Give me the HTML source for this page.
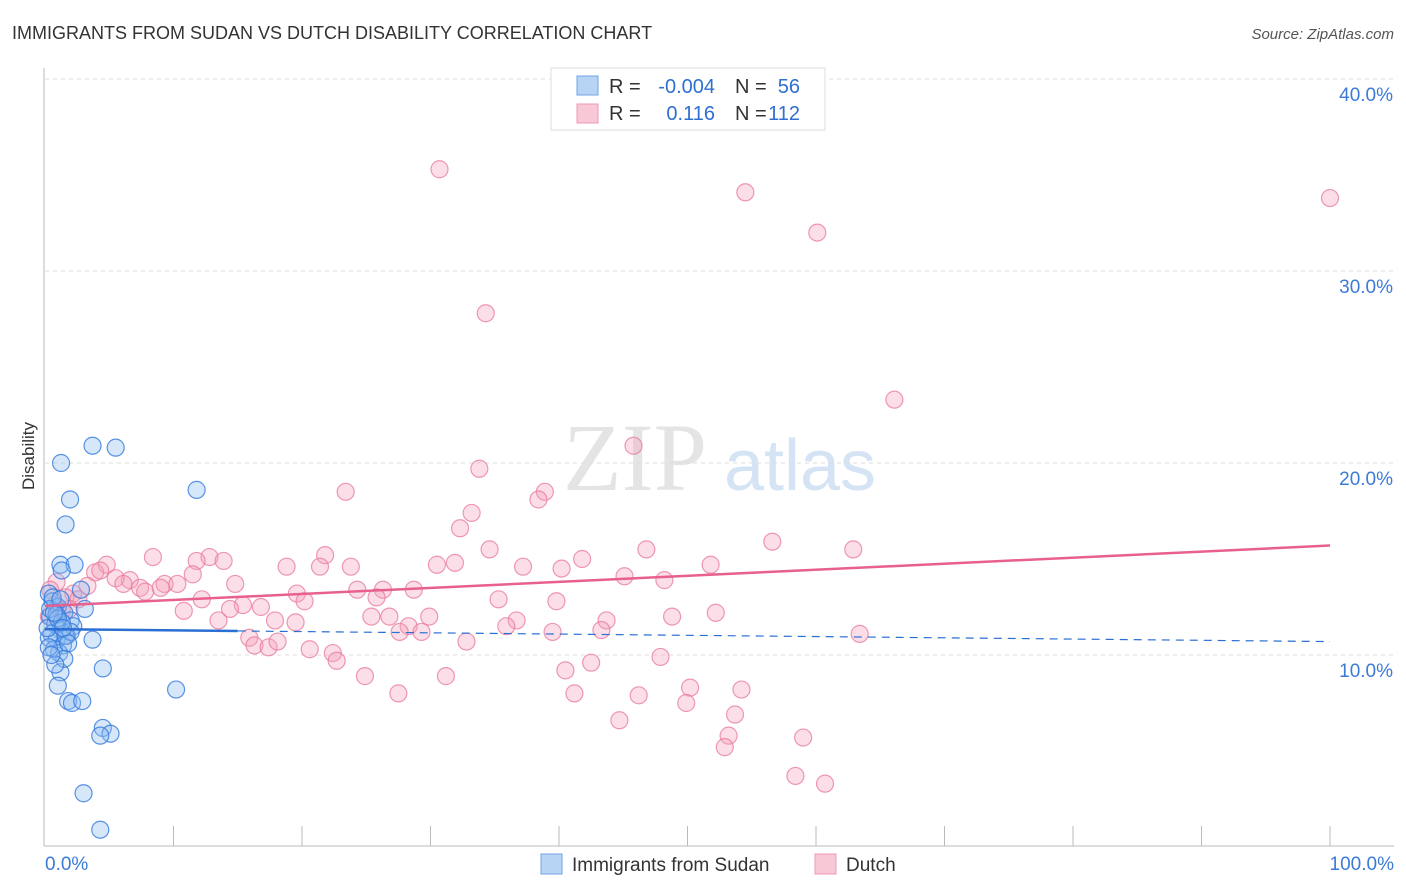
<!DOCTYPE html>
<html><head><meta charset="utf-8"><style>
body{margin:0;background:#fff;font-family:"Liberation Sans",sans-serif}
svg{display:block}
</style></head><body>
<svg id="chart" width="1406" height="892">
<text x="12" y="39" font-size="18" fill="#333">IMMIGRANTS FROM SUDAN VS DUTCH DISABILITY CORRELATION CHART</text>
<text x="1394" y="39" font-size="15" fill="#555" font-style="italic" text-anchor="end">Source: ZipAtlas.com</text>
<text x="34" y="456" font-size="17" fill="#333" text-anchor="middle" transform="rotate(-90 34 456)">Disability</text>
<g><text x="635" y="490" font-size="96" fill="#e4e4e4" font-family="Liberation Serif,serif" text-anchor="middle">ZIP</text><text x="800" y="490" font-size="72" fill="#d5e4f5" text-anchor="middle">atlas</text></g>
<g id="grid"></g><g id="axes"></g><g id="pts"></g><g id="trend"></g>
<g>
<rect x="551" y="68" width="274" height="62" fill="#fff" stroke="#ddd"/>
<rect x="577" y="76" width="21" height="19" fill="#b8d4f5" stroke="#6fa3e6"/>
<rect x="577" y="104" width="21" height="19" fill="#f9c8d7" stroke="#ee9ab4"/>
<text x="609" y="93" font-size="20" fill="#333">R =</text><text x="715" y="93" font-size="20" fill="#2f6fd0" text-anchor="end">-0.004</text>
<text x="735" y="93" font-size="20" fill="#333">N =</text><text x="800" y="93" font-size="20" fill="#2f6fd0" text-anchor="end">56</text>
<text x="609" y="120" font-size="20" fill="#333">R =</text><text x="715" y="120" font-size="20" fill="#2f6fd0" text-anchor="end">0.116</text>
<text x="735" y="120" font-size="20" fill="#333">N =</text><text x="800" y="120" font-size="20" fill="#2f6fd0" text-anchor="end">112</text>
</g>
<g>
<rect x="541" y="854" width="21" height="20" fill="#b8d4f5" stroke="#6fa3e6"/><text x="572" y="871" font-size="19" fill="#333">Immigrants from Sudan</text>
<rect x="815" y="854" width="21" height="20" fill="#f9c8d7" stroke="#ee9ab4"/><text x="846" y="871" font-size="19" fill="#333">Dutch</text>
</g>
</svg>
<script>
const yTicks=[10,20,30,40];
const xTickLabels=["0.0%","100.0%"];
const sudanX=[3.7,5.5,1.25,11.8,1.95,1.6,1.2,2.3,1.3,2.8,3.1,3.7,4.5,10.2,1.2,1.0,1.8,2.1,2.9,4.5,5.1,4.3,3.0,4.3,0.3,0.6,1.0,1.5,2.0,0.4,0.8,1.2,1.7,2.2,0.5,0.9,1.4,0.3,0.7,1.1,1.6,2.0,0.4,0.9,1.3,1.8,0.2,0.6,1.0,1.5,0.3,0.8,1.2,0.5,1.4,0.7];
const sudanY=[20.9,20.8,20.0,18.6,18.1,16.8,14.7,14.7,14.4,13.4,12.4,10.8,9.3,8.2,9.1,8.4,7.6,7.5,7.6,6.2,5.9,5.8,2.8,0.9,13.2,12.8,12.5,12.2,11.8,12.0,11.6,11.3,11.0,11.5,11.1,10.8,10.5,10.9,10.3,10.1,11.0,11.2,12.4,12.1,11.7,10.6,11.4,13.0,11.9,9.8,10.4,9.5,12.9,10.0,11.4,12.2];
const dutchX=[30.7,54.5,60.1,100,34.3,66.1,45.8,33.8,23.4,38.9,38.4,33.2,32.3,34.6,8.4,21.8,41.8,46.8,56.6,62.9,51.8,12.8,13.9,11.8,4.8,18.8,23.8,30.5,31.9,37.2,40.2,45.1,48.2,21.4,11.5,14.8,6.6,9.3,10.3,26.3,28.7,24.3,19.6,20.2,25.8,35.3,39.8,12.2,15.4,16.8,10.8,14.4,25.4,26.8,29.9,43.7,48.8,52.2,13.5,17.9,19.5,36.7,35.9,28.3,27.6,29.3,39.5,43.3,63.4,15.9,16.3,17.4,18.1,20.6,22.4,22.7,32.8,47.9,42.5,40.5,24.9,31.2,50.2,54.2,27.5,41.2,46.2,49.9,53.7,44.7,53.2,52.9,59.0,58.4,60.7,0.9,3.9,4.3,5.5,6.1,7.4,3.3,2.2,1.6,0.8,0.4,1.3,7.8,9.0,2.6,0.3,1.9];
const dutchY=[35.3,34.1,32.0,33.8,27.8,23.3,20.9,19.7,18.5,18.5,18.1,17.4,16.6,15.5,15.1,15.2,15.0,15.5,15.9,15.5,14.7,15.1,14.9,14.9,14.7,14.6,14.6,14.7,14.8,14.6,14.5,14.1,13.9,14.6,14.2,13.7,13.9,13.7,13.7,13.4,13.4,13.4,13.2,12.8,13.0,12.9,12.8,12.9,12.6,12.5,12.3,12.4,12.0,12.0,12.0,11.8,12.0,12.2,11.8,11.8,11.7,11.8,11.5,11.5,11.2,11.2,11.2,11.3,11.1,10.9,10.5,10.4,10.7,10.3,10.1,9.7,10.7,9.9,9.6,9.2,8.9,8.9,8.3,8.2,8.0,8.0,7.9,7.5,6.9,6.6,5.8,5.2,5.7,3.7,3.3,13.8,14.3,14.4,14.0,13.7,13.5,13.6,13.2,13.0,12.6,13.4,12.3,13.3,13.5,12.9,12.0,12.4];
const trendSudan=[11.35,10.7];
const trendDutch=[12.55,15.7];
const NS='http://www.w3.org/2000/svg';
const X=v=>45+v*12.85, Y=v=>847-v*19.2;
function mk(tag,attrs,parent){const e=document.createElementNS(NS,tag);for(const k in attrs)e.setAttribute(k,attrs[k]);document.getElementById(parent).appendChild(e);return e;}
yTicks.forEach(t=>{
 const l=mk('line',{x1:45,x2:1394,y1:Y(t),y2:Y(t),stroke:'#ddd','stroke-dasharray':'4 4'},'grid');
 
 
 const tx=mk('text',{x:1393,y:Y(t)+22,'font-size':19,fill:'#3b7bd6','text-anchor':'end'},'grid');
 tx.textContent=t.toFixed(1)+'%';
 
 
});
mk('line',{x1:44,x2:44,y1:68,y2:846,stroke:'#bbb'},'axes');
mk('line',{x1:44,x2:1394,y1:846,y2:846,stroke:'#bbb'},'axes');
for(let i=1;i<=10;i++){mk('line',{x1:45+i*128.5,x2:45+i*128.5,y1:826,y2:846,stroke:'#bbb'},'axes');}
[[45,'start',0],[1394,'end',1]].forEach(([x,a,i])=>{const t=mk('text',{x:x,y:870,'font-size':19,fill:'#3b7bd6','text-anchor':a},'axes');t.textContent=xTickLabels[i];
 
 });
dutchX.forEach((v,i)=>{const c=mk('circle',{cx:X(v),cy:Y(dutchY[i]),r:8.5,fill:'rgba(244,160,186,0.35)',stroke:'rgba(232,120,155,0.75)','stroke-width':1.2},'pts');
 
 });
sudanX.forEach((v,i)=>{const c=mk('circle',{cx:X(v),cy:Y(sudanY[i]),r:8.5,fill:'rgba(140,185,240,0.35)',stroke:'rgba(50,120,220,0.8)','stroke-width':1.2},'pts');
 
 });
const tsy=x=>trendSudan[0]+(trendSudan[1]-trendSudan[0])*x/100;
let l1=mk('line',{x1:X(0),y1:Y(tsy(0)),x2:X(15),y2:Y(tsy(15)),stroke:'#2b6fd4','stroke-width':2.5},'trend');


let l2=mk('line',{x1:X(15),y1:Y(tsy(15)),x2:X(100),y2:Y(tsy(100)),stroke:'#2b6fd4','stroke-width':1.2,'stroke-dasharray':'8 6'},'trend');


let l3=mk('line',{x1:X(0),y1:Y(trendDutch[0]),x2:X(100),y2:Y(trendDutch[1]),stroke:'#e8608e','stroke-width':2.5},'trend');


</script>
</body></html>
